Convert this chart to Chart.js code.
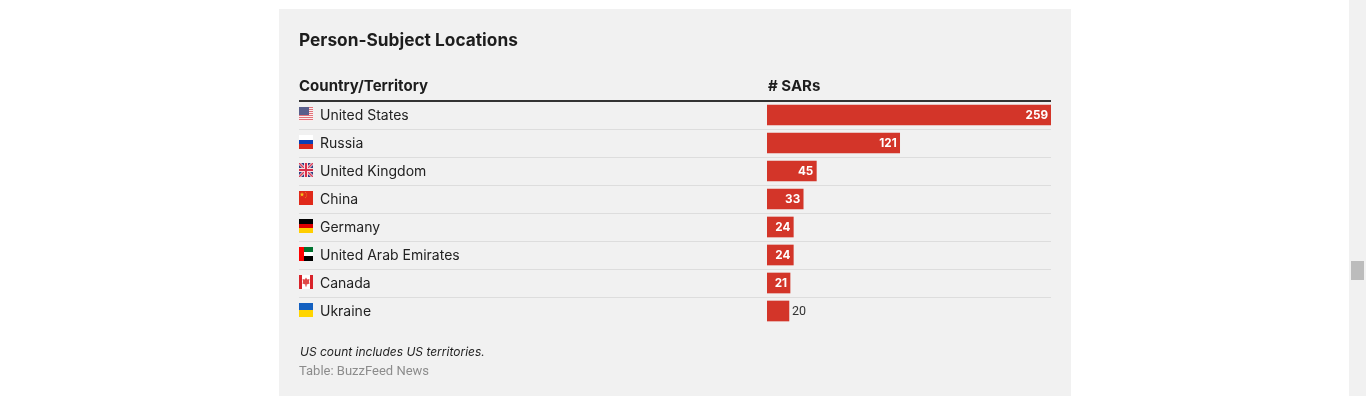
<!DOCTYPE html>
<html>
<head>
<meta charset="utf-8">
<title>Person-Subject Locations</title>
<script src="https://cdn.jsdelivr.net/npm/chart.js@4"></script>
<style>
  html,body{margin:0;padding:0;background:#fff;overflow:hidden;height:396px;}
  #panel{position:absolute;left:279px;top:9px;width:792px;height:387px;background:#f1f1f1;}
  #panel canvas{position:absolute;left:0;top:0;}
  .txt{position:absolute;white-space:nowrap;color:#1d1d1d;font-family:Inter,sans-serif;}
  #title{left:20px;top:19px;font-size:17.3px;line-height:24px;font-weight:700;}
  .head{top:67px;font-size:15px;line-height:20px;font-weight:700;}
  #note{left:21px;top:335px;font-size:12px;line-height:16px;font-style:italic;}
  #source{left:20px;top:354px;font-size:13px;line-height:16px;color:#8c8c8c;font-family:Roboto,sans-serif;font-weight:400;}
  #track{position:absolute;left:1349px;top:0;width:17px;height:396px;background:#f1f1f1;}
  #thumb{position:absolute;left:2px;top:261px;width:13px;height:19px;background:#bcbcbc;}
</style>
</head>
<body>
<div id="panel">
  <canvas id="myChart" width="792" height="387"></canvas>
  <div class="txt" id="title">Person-Subject Locations</div>
  <div class="txt head" style="left:20px">Country/Territory</div>
  <div class="txt head" style="left:489px"># SARs</div>
  <div class="txt" id="note">US count includes US territories.</div>
  <div class="txt" id="source">Table: BuzzFeed News</div>
</div>
<div id="track"><div id="thumb"></div></div>
<script>
var countries = ["United States","Russia","United Kingdom","China","Germany","United Arab Emirates","Canada","Ukraine"];
var sars = [259,121,45,33,24,24,21,20];
var flagNames = ["us","ru","gb","cn","de","ae","ca","ua"];

// little helper, x/y are in a 14x14 flag box
function box(c,x,y,w,h,col){ c.fillStyle=col; c.fillRect(x,y,w,h); }
function star(c,x,y,r,col){
  c.fillStyle=col; c.beginPath();
  for(var i=0;i<10;i++){
    var a=-Math.PI/2+i*Math.PI/5, q=i%2?r*0.4:r;
    c.lineTo(x+Math.cos(a)*q,y+Math.sin(a)*q);
  }
  c.fill();
}
var flags = {
  us:function(c){
    box(c,0,0,14,14,"#fbeeee");
    for(var i=0;i<7;i++) box(c,0,i*2,14,1,"#e2727a");
    box(c,0,0,10,8,"#5a5f8c");
  },
  ru:function(c){ box(c,0,0,14,5,"#fff"); box(c,0,5,14,4,"#0a3fb5"); box(c,0,9,14,5,"#d8281c"); },
  gb:function(c){
    box(c,0,0,14,14,"#2f3d80");
    c.lineWidth=3; c.strokeStyle="#f6dfe2";
    c.beginPath(); c.moveTo(0,0); c.lineTo(14,14); c.moveTo(14,0); c.lineTo(0,14); c.stroke();
    c.lineWidth=1.4; c.strokeStyle="#d8405a";
    c.beginPath(); c.moveTo(0,0); c.lineTo(14,14); c.moveTo(14,0); c.lineTo(0,14); c.stroke();
    box(c,5,0,4,14,"#f6dfe2"); box(c,0,5,14,4,"#f6dfe2");
    box(c,6,0,2,14,"#d8304a"); box(c,0,6,14,2,"#d8304a");
  },
  cn:function(c){
    box(c,0,0,14,14,"#e0291a");
    star(c,3,3.5,2.4,"#f4c81c");
    star(c,6.5,1.5,.8,"#eea01c"); star(c,7.5,3,.8,"#eea01c"); star(c,7.5,5,.8,"#eea01c"); star(c,6.5,6.5,.8,"#eea01c");
  },
  de:function(c){ box(c,0,0,14,5,"#000"); box(c,0,5,14,4,"#dd0000"); box(c,0,9,14,5,"#ffce00"); },
  ae:function(c){
    box(c,0,0,14,5,"#00732f"); box(c,0,5,14,4,"#fff"); box(c,0,9,14,5,"#000");
    box(c,0,0,5,14,"#ff0000");
  },
  ca:function(c){
    box(c,0,0,14,14,"#fff"); box(c,0,0,3,14,"#d8232a"); box(c,11,0,3,14,"#d8232a");
    c.fillStyle="#e04848"; c.beginPath();
    c.moveTo(7,2.5); c.lineTo(8.2,4.5); c.lineTo(10.4,4); c.lineTo(10,7); c.lineTo(10.6,8.6);
    c.lineTo(7.6,9.6); c.lineTo(7.6,11.5); c.lineTo(6.4,11.5); c.lineTo(6.4,9.6); c.lineTo(3.4,8.6);
    c.lineTo(4,7); c.lineTo(3.6,4); c.lineTo(5.8,4.5); c.fill();
  },
  ua:function(c){ box(c,0,0,14,7,"#1360c0"); box(c,0,7,14,7,"#ffd500"); }
};

var flagPlugin = {
  id:"flagPlugin",
  afterDraw:function(chart){
    var c=chart.ctx, y=chart.scales.y;
    flagNames.forEach(function(n,i){
      c.save();
      c.translate(20,y.getPixelForValue(i)-8);
      c.beginPath(); c.rect(0,0,14,14); c.clip();
      flags[n](c);
      c.restore();
    });
  }
};

var valuePlugin = {
  id:"valuePlugin",
  afterDatasetsDraw:function(chart){
    var c=chart.ctx, bars=chart.getDatasetMeta(0).data;
    c.save();
    c.textBaseline="middle";
    bars.forEach(function(b,i){
      var inside=(b.x-b.base)>22.5;
      c.font=inside?"700 11.7px Inter, sans-serif":"400 12.5px Roboto, sans-serif";
      c.fillStyle=inside?"#fff":"#333";
      c.textAlign=inside?"right":"left";
      c.fillText(sars[i],inside?b.x-3:b.x+3,b.y+0.5);
    });
    c.restore();
  }
};

var ctx = document.getElementById("myChart").getContext("2d");
var chart = new Chart(ctx,{
  type:"bar",
  data:{
    labels:countries,
    datasets:[{data:sars,backgroundColor:"#d33529",barThickness:20}]
  },
  options:{
    indexAxis:"y",
    responsive:false,
    animation:false,
    layout:{padding:{left:41,right:20,top:92,bottom:71}},
    plugins:{legend:{display:false},tooltip:{enabled:false}},
    scales:{
      x:{display:false,min:0,max:259},
      y:{
        afterFit:function(s){ s.width=447; },
        border:{display:false},
        grid:{
          offset:true,
          tickLength:468,
          // the closing line has no tick, so it gets the scale context
          color:function(g){ return g.index===0?"#333":(g.index===undefined?"rgba(0,0,0,0)":"#dddddd"); },
          lineWidth:function(g){ return g.index===0?2:1; }
        },
        ticks:{crossAlign:"far",color:"#222",padding:0,labelOffset:1,font:{family:"Inter, sans-serif",size:14}}
      }
    }
  },
  plugins:[flagPlugin,valuePlugin]
});
</script>
</body>
</html>
